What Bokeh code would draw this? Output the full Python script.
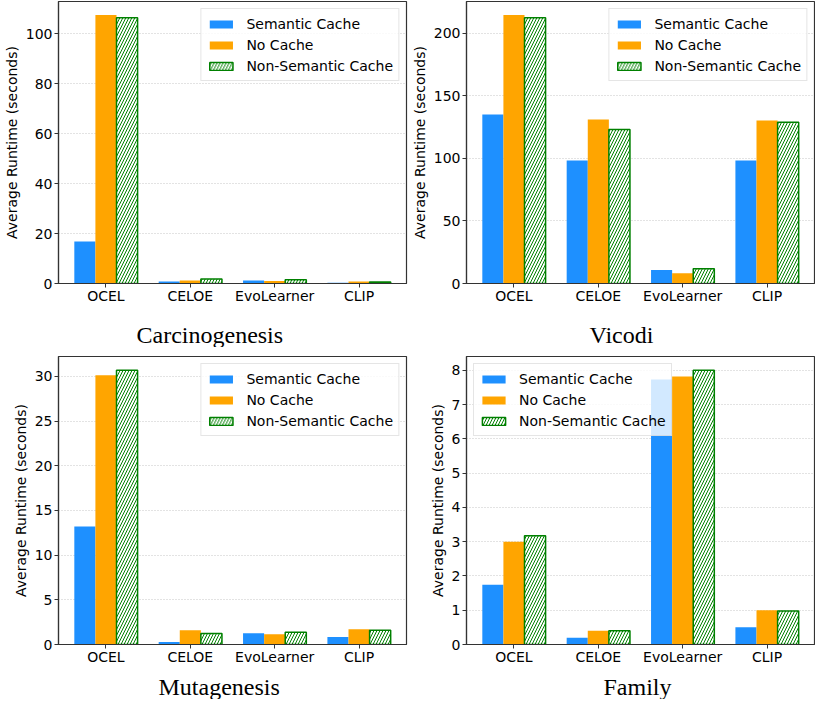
from bokeh.plotting import figure
from bokeh.models import ColumnDataSource, Legend, LegendItem, Title, FixedTicker, Range1d
from bokeh.layouts import gridplot
from bokeh.embed import file_html
from bokeh.resources import INLINE

models = ["OCEL", "CELOE", "EvoLearner", "CLIP"]
series_names = ["Semantic Cache", "No Cache", "Non-Semantic Cache"]

carc_semantic = [16.8, 0.8, 1.2, 0.3]
carc_nocache = [107.5, 1.2, 1.0, 0.8]
carc_nonsem = [106.4, 1.8, 1.5, 0.6]

vicodi_semantic = [135.2, 98.4, 10.7, 98.4]
vicodi_nocache = [214.8, 131.1, 8.2, 130.3]
vicodi_nonsem = [212.5, 123.2, 11.7, 129.0]

muta_semantic = [13.2, 0.27, 1.26, 0.84]
muta_nocache = [30.15, 1.6, 1.15, 1.72]
muta_nonsem = [30.7, 1.22, 1.37, 1.6]

family_semantic = [1.74, 0.2, 7.73, 0.5]
family_nocache = [3.0, 0.4, 7.82, 1.0]
family_nonsem = [3.17, 0.4, 8.0, 0.98]

carc_ticks = [0, 20, 40, 60, 80, 100]
vicodi_ticks = [0, 50, 100, 150, 200]
muta_ticks = [0, 5, 10, 15, 20, 25, 30]
family_ticks = [0, 1, 2, 3, 4, 5, 6, 7, 8]

titles = ["Carcinogenesis", "Vicodi", "Mutagenesis", "Family"]

BLUE = "#1E90FF"
ORANGE = "#FFA500"
GREEN = "#008000"
AXIS = "#333333"
FONT = "DejaVu Sans"
BAR_W = 0.25


def make_panel(title, sem, noc, nons, ticks, width, height, mb_left, mb_right,
               mb_top, mb_bottom, legend_loc, title_left, title_gap):
    ymax = 1.05 * max(sem + noc + nons)
    idx = list(range(len(models)))
    p = figure(width=width, height=height, output_backend="svg", toolbar_location=None,
               x_range=Range1d(-0.5625, len(models) - 1 + 0.5625),
               y_range=Range1d(0, ymax),
               min_border_left=mb_left, min_border_right=mb_right,
               min_border_top=mb_top, min_border_bottom=mb_bottom)
    p.background_fill_color = "white"
    p.border_fill_color = "white"
    p.outline_line_color = AXIS
    p.outline_line_width = 1.2

    src = ColumnDataSource(dict(
        x0=[i - BAR_W for i in idx], x1=idx, x2=[i + BAR_W for i in idx],
        sem=sem, noc=noc, nons=nons))
    r1 = p.vbar(x="x0", top="sem", width=BAR_W, source=src, fill_color=BLUE, line_color=None)
    r2 = p.vbar(x="x1", top="noc", width=BAR_W, source=src, fill_color=ORANGE, line_color=None)
    r3 = p.vbar(x="x2", top="nons", width=BAR_W, source=src, fill_color="white",
                line_color=GREEN, line_width=1.5, hatch_pattern="/", hatch_color=GREEN,
                hatch_scale=6, hatch_weight=1)

    p.xgrid.visible = False
    p.ygrid.grid_line_color = "#b8b8b8"
    p.ygrid.grid_line_dash = "1 2"
    p.ygrid.grid_line_width = 0.8
    p.ygrid.ticker = FixedTicker(ticks=ticks)

    p.xaxis.ticker = FixedTicker(ticks=idx)
    p.xaxis.major_label_overrides = {i: m for i, m in zip(idx, models)}
    p.yaxis.ticker = FixedTicker(ticks=ticks)
    p.yaxis.axis_label = "Average Runtime (seconds)"
    for ax in (p.xaxis[0], p.yaxis[0]):
        ax.axis_line_color = AXIS
        ax.axis_line_width = 1.2
        ax.major_tick_line_color = AXIS
        ax.major_tick_in = 0
        ax.major_tick_out = 4
        ax.minor_tick_line_color = None
        ax.major_label_text_font = FONT
        ax.major_label_text_font_size = "14px"
        ax.major_label_text_color = "black"
        ax.major_label_standoff = 2
        ax.axis_label_text_font = FONT
        ax.axis_label_text_font_size = "14px"
        ax.axis_label_text_font_style = "normal"
        ax.axis_label_text_color = "black"
        ax.axis_label_standoff = 3
    p.xaxis.major_label_standoff = 0
    if title_gap is not None:
        # empty spacer label under the x axis to push the caption down
        p.xaxis.axis_label = " "
        p.xaxis.axis_label_text_font_size = "1px"
        p.xaxis.axis_label_standoff = title_gap

    legend = Legend(items=[LegendItem(label=series_names[0], renderers=[r1]),
                           LegendItem(label=series_names[1], renderers=[r2]),
                           LegendItem(label=series_names[2], renderers=[r3])],
                    location=legend_loc)
    legend.label_text_font = FONT
    legend.label_text_font_size = "14px"
    legend.label_text_color = "black"
    legend.glyph_width = 29
    legend.glyph_height = 10
    legend.label_standoff = 11
    legend.label_height = 19
    legend.spacing = 2
    legend.padding = 5
    legend.margin = 7
    legend.border_line_color = "#cccccc"
    legend.border_line_width = 1
    legend.background_fill_alpha = 0.8
    p.add_layout(legend, "center")

    t = Title(text=title, align="left", offset=title_left, standoff=0,
              text_font="Liberation Serif", text_font_size="24px",
              text_font_style="normal", text_color="black", text_line_height=1.0)
    p.add_layout(t, "below")
    return p


p1 = make_panel(titles[0], carc_semantic, carc_nocache, carc_nonsem, carc_ticks,
                408, 347, 51, 2, 1, 63, "top_right", 78, 9)
p2 = make_panel(titles[1], vicodi_semantic, vicodi_nocache, vicodi_nonsem, vicodi_ticks,
                407, 347, 58, 1, 1, 63, "top_right", 123, 9)
p3 = make_panel(titles[2], muta_semantic, muta_nocache, muta_nonsem, muta_ticks,
                408, 352, 42, 2, 9, 54, "top_right", 100, 0)
p4 = make_panel(titles[3], family_semantic, family_nocache, family_nonsem, family_ticks,
                407, 352, 42, 1, 2, 54, "top_left", 137, 0)

grid = gridplot([[p1, p2], [p3, p4]], toolbar_location=None)

open("out.html", "w").write(file_html(grid, INLINE))
